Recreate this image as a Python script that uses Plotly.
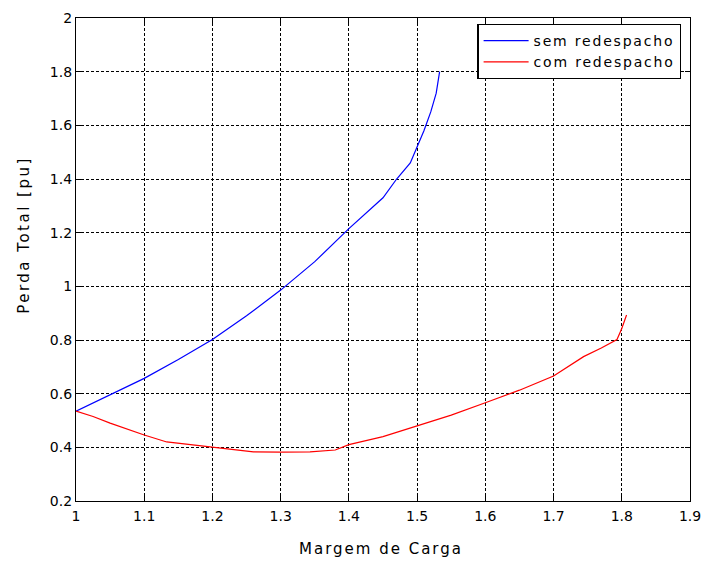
import plotly.graph_objects as go

# Load margin vs. total loss, without and with redispatch
sem_x = [1.0, 1.05, 1.1, 1.15, 1.2, 1.25, 1.3, 1.35, 1.4, 1.45, 1.47, 1.49,
         1.5, 1.51, 1.52, 1.528, 1.533]
sem_y = [0.535, 0.595, 0.657, 0.727, 0.802, 0.89, 0.986, 1.092, 1.215, 1.33,
         1.40, 1.46, 1.52, 1.58, 1.65, 1.72, 1.80]

com_x = [1.0, 1.025, 1.05, 1.1, 1.133, 1.2, 1.26, 1.3, 1.343, 1.38, 1.4,
         1.45, 1.5, 1.55, 1.6, 1.65, 1.7, 1.744, 1.77, 1.793, 1.80, 1.807]
com_y = [0.535, 0.515, 0.49, 0.446, 0.42, 0.40, 0.383, 0.382, 0.383, 0.39,
         0.41, 0.44, 0.48, 0.52, 0.566, 0.613, 0.666, 0.738, 0.77, 0.802,
         0.843, 0.893]

x_ticks = [1, 1.1, 1.2, 1.3, 1.4, 1.5, 1.6, 1.7, 1.8, 1.9]
y_ticks = [0.2, 0.4, 0.6, 0.8, 1, 1.2, 1.4, 1.6, 1.8, 2]

font = "DejaVu Sans, Liberation Sans, sans-serif"


def spaced(text, px):
    return f'<span style="letter-spacing:{px}px">{text}</span>'


fig = go.Figure()
fig.add_trace(go.Scatter(x=sem_x, y=sem_y, mode="lines",
                         name=spaced("sem redespacho", 1.8),
                         line=dict(color="#0000ff", width=1.2)))
fig.add_trace(go.Scatter(x=com_x, y=com_y, mode="lines",
                         name=spaced("com redespacho", 1.8),
                         line=dict(color="#ff0000", width=1.2)))

axis_common = dict(
    showline=True, linecolor="black", linewidth=1.2, mirror="ticks",
    ticks="inside", ticklen=5, tickcolor="black",
    showgrid=True, gridcolor="black", gridwidth=1, griddash="3px,2px",
    zeroline=False, tickfont=dict(family=font, size=14, color="black"),
    automargin=False, ticklabeloverflow="allow",
)

fig.update_xaxes(range=[1, 1.9], tickvals=x_ticks, ticklabelstandoff=2,
                 ticktext=[f"{v:g}" for v in x_ticks], **axis_common)
fig.update_yaxes(range=[0.2, 2], tickvals=y_ticks,
                 ticktext=[f"{v:g}" for v in y_ticks], **axis_common)

# Axis titles placed as paper annotations
fig.add_annotation(text=spaced("Margem de Carga", 2), xref="paper", yref="paper",
                   x=0.497, y=-0.099, showarrow=False,
                   xanchor="center", yanchor="middle",
                   font=dict(family=font, size=15, color="black"))
fig.add_annotation(text=spaced("Perda Total [pu]", 2.5), xref="paper", yref="paper",
                   x=-0.084, y=0.552, showarrow=False, textangle=-90,
                   xanchor="center", yanchor="middle",
                   font=dict(family=font, size=15, color="black"))

fig.update_layout(
    width=705, height=564,
    margin=dict(l=76, r=15, t=18, b=63),
    paper_bgcolor="white", plot_bgcolor="white",
    font=dict(family=font, color="black"),
    showlegend=True,
    legend=dict(x=0.986, y=0.988, xanchor="right", yanchor="top",
                bgcolor="white", bordercolor="black", borderwidth=1.2,
                font=dict(family=font, size=14, color="black"),
                tracegroupgap=0, itemwidth=45),
)

fig.write_html("out.html")
